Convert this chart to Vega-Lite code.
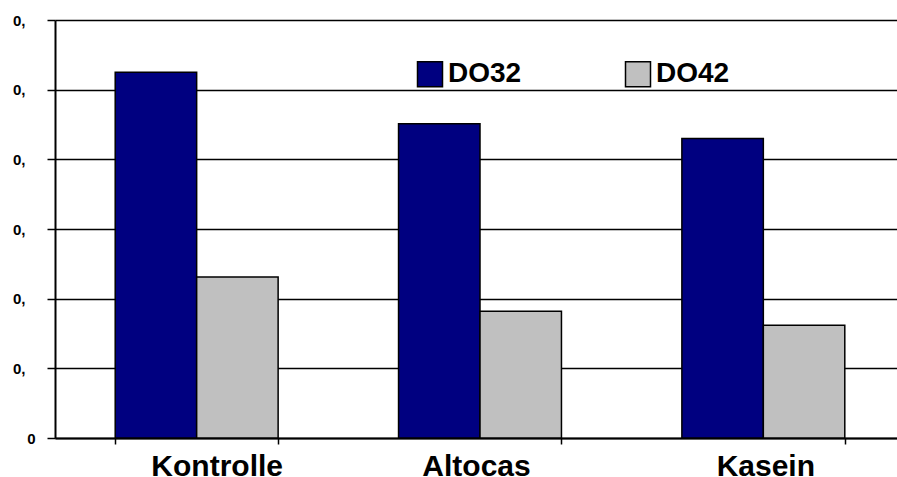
{
  "$schema": "https://vega.github.io/schema/vega-lite/v6.json",
  "width": 842,
  "height": 418,
  "autosize": "none",
  "padding": {"left": 55, "top": 20, "right": 0, "bottom": 39},
  "background": "white",
  "config": {
    "font": "Liberation Sans",
    "view": {"stroke": null}
  },
  "data": {
    "values": [
      {"gruppe": "Kontrolle", "serie": "DO32", "wert": 5.25},
      {"gruppe": "Kontrolle", "serie": "DO42", "wert": 2.31},
      {"gruppe": "Altocas", "serie": "DO32", "wert": 4.51},
      {"gruppe": "Altocas", "serie": "DO42", "wert": 1.82},
      {"gruppe": "Kasein", "serie": "DO32", "wert": 4.30},
      {"gruppe": "Kasein", "serie": "DO42", "wert": 1.62}
    ]
  },
  "mark": {"type": "bar", "stroke": "black", "strokeWidth": 1.5},
  "encoding": {
    "x": {
      "field": "gruppe",
      "type": "nominal",
      "sort": ["Kontrolle", "Altocas", "Kasein"],
      "scale": {"range": [0, 850], "paddingInner": 0.425, "paddingOuter": 0.2125},
      "axis": {
        "title": null,
        "labelAngle": 0,
        "labelFontSize": 30,
        "labelFontWeight": "bold",
        "labelColor": "black",
        "labelPadding": 7,
        "labelOffset": {"expr": "datum.value == 'Kontrolle' ? 20 : (datum.value == 'Altocas' ? -4 : 2)"},
        "tickBand": "extent",
        "tickSize": 6,
        "tickColor": "black",
        "tickWidth": 1.5,
        "domainColor": "black",
        "domainWidth": 2
      }
    },
    "xOffset": {"field": "serie", "type": "nominal", "scale": {"paddingInner": 0, "paddingOuter": 0}},
    "y": {
      "field": "wert",
      "type": "quantitative",
      "scale": {"domain": [0, 6], "nice": false},
      "axis": {
        "title": null,
        "values": [0, 1, 2, 3, 4, 5, 6],
        "labelExpr": "datum.value == 0 ? '0' : '0,'",
        "labelFontSize": 15,
        "labelFontWeight": "bold",
        "labelColor": "black",
        "labelPadding": {"expr": "datum.value == 0 ? 12 : 22"},
        "tickSize": 8,
        "tickColor": "black",
        "tickWidth": 1.5,
        "domainColor": "black",
        "domainWidth": 2,
        "grid": true,
        "gridColor": "black",
        "gridWidth": 1.5
      }
    },
    "color": {
      "field": "serie",
      "type": "nominal",
      "scale": {"domain": ["DO32", "DO42"], "range": ["#000080", "#c0c0c0"]},
      "legend": {
        "title": null,
        "orient": "none",
        "legendX": 361,
        "legendY": 40,
        "direction": "horizontal",
        "symbolType": "square",
        "symbolSize": 625,
        "symbolStrokeColor": "black",
        "symbolStrokeWidth": 1.5,
        "symbolOpacity": 1,
        "labelFontSize": 28,
        "labelFontWeight": "bold",
        "labelColor": "black",
        "labelOffset": 4,
        "columnPadding": 100
      }
    }
  }
}
